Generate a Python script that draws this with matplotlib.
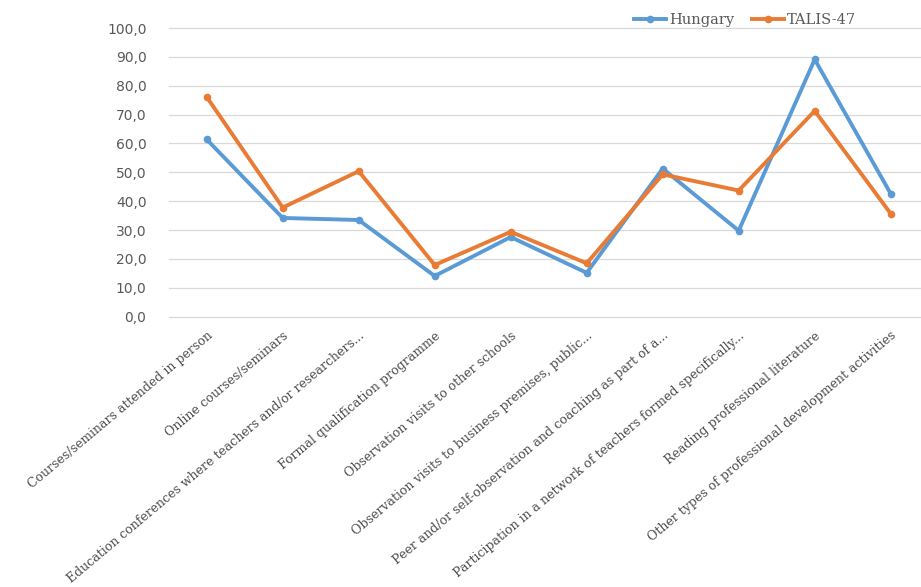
import matplotlib
matplotlib.use("Agg")
import matplotlib.pyplot as plt
from matplotlib.ticker import FuncFormatter

categories = [
    "Courses/seminars attended in person",
    "Online courses/seminars",
    "Education conferences where teachers and/or researchers...",
    "Formal qualification programme",
    "Observation visits to other schools",
    "Observation visits to business premises, public...",
    "Peer and/or self-observation and coaching as part of a...",
    "Participation in a network of teachers formed specifically...",
    "Reading professional literature",
    "Other types of professional development activities",
]
hungary = [61.4, 34.2, 33.5, 14.1, 27.6, 15.2, 51.3, 29.8, 89.1, 42.6]
talis47 = [76.1, 37.8, 50.4, 17.9, 29.4, 18.5, 49.3, 43.7, 71.3, 35.7]
yticks = [0, 10, 20, 30, 40, 50, 60, 70, 80, 90, 100]

fig = plt.figure(figsize=(9.21, 5.87), dpi=100)
ax = fig.add_axes([168.7/921, 270.3/587, 760/921, 288.7/587])

x = list(range(len(categories)))
ax.plot(x, hungary, color="#5B9BD5", lw=2.8, marker="o", ms=4.5, label="Hungary", zorder=3)
ax.plot(x, talis47, color="#E97C35", lw=2.8, marker="o", ms=4.5, label="TALIS-47", zorder=3)

ax.set_xlim(-0.5, len(categories) - 0.5)
ax.set_ylim(0, 100)
ax.set_yticks(yticks)
ax.yaxis.set_major_formatter(FuncFormatter(lambda v, p: f"{v:.1f}".replace(".", ",")))
for yv in yticks:
    ax.axhline(yv, color="#D9D9D9", lw=0.9, clip_on=False, zorder=1)
for s in ax.spines.values():
    s.set_visible(False)
ax.tick_params(axis="y", length=0, pad=16, labelsize=10, labelcolor="#595959")
ax.tick_params(axis="x", length=0, pad=9)
ax.set_xticks(x)
ax.set_xticklabels(categories, rotation=40, ha="right", rotation_mode="anchor",
                   fontsize=9, color="#4D4D4D", family="DejaVu Serif")

fig.legend(loc="upper center", bbox_to_anchor=(745/921, 1.0), ncol=2, frameon=False,
           prop={"family": "DejaVu Serif", "size": 10.5}, labelcolor="#595959",
           handlelength=2.2, handletextpad=0.2, columnspacing=1.2)

fig.savefig("out.png", dpi=100)
